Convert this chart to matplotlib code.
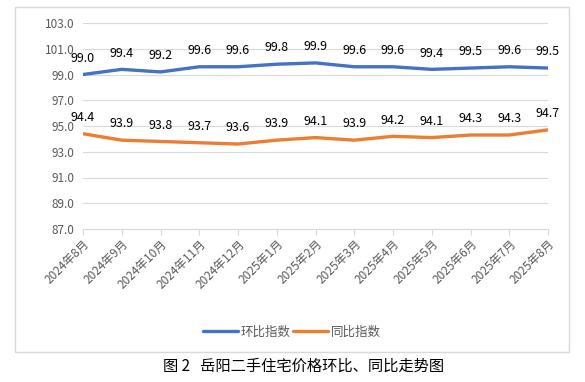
import matplotlib
matplotlib.use("Agg")
import matplotlib.pyplot as plt
from matplotlib.patches import Rectangle

plt.rcParams['font.family'] = ['Noto Sans CJK SC', 'DejaVu Sans']

months = ["2024年8月", "2024年9月", "2024年10月", "2024年11月", "2024年12月",
          "2025年1月", "2025年2月", "2025年3月", "2025年4月", "2025年5月",
          "2025年6月", "2025年7月", "2025年8月"]
mom_index = [99.0, 99.4, 99.2, 99.6, 99.6, 99.8, 99.9, 99.6, 99.6, 99.4, 99.5, 99.6, 99.5]
yoy_index = [94.4, 93.9, 93.8, 93.7, 93.6, 93.9, 94.1, 93.9, 94.2, 94.1, 94.3, 94.3, 94.7]
yticks = [87.0, 89.0, 91.0, 93.0, 95.0, 97.0, 99.0, 101.0, 103.0]

W, H = 585, 382
fig = plt.figure(figsize=(W / 100, H / 100), dpi=100)

# chart border
fig.patches.append(Rectangle((15 / W, 1 - 352 / H), (569 - 15) / W, (352 - 7) / H,
                             transform=fig.transFigure, fill=False,
                             edgecolor="#D9D9D9", linewidth=1))

ax = fig.add_axes([83 / W, 1 - 229 / H, (548 - 83) / W, (229 - 23) / H])
x = range(len(months))
ax.plot(x, mom_index, color="#4472C4", linewidth=2.4, label="环比指数", solid_capstyle="round")
ax.plot(x, yoy_index, color="#ED7D31", linewidth=2.4, label="同比指数", solid_capstyle="round")

for i, v in enumerate(mom_index):
    ax.annotate(f"{v:.1f}", (i, v), xytext=(0, 7), textcoords="offset points",
                ha="center", va="bottom", fontsize=9, color="#000000")
for i, v in enumerate(yoy_index):
    ax.annotate(f"{v:.1f}", (i, v), xytext=(0, 7), textcoords="offset points",
                ha="center", va="bottom", fontsize=9, color="#000000")

ax.set_ylim(87, 103)
ax.set_xlim(0, len(months) - 1)
ax.set_yticks(yticks)
ax.set_yticklabels([f"{t:.1f}" for t in yticks], fontsize=8.5, color="#595959")
ax.set_xticks(list(x))
ax.set_xticklabels(months, rotation=45, ha="right", rotation_mode="anchor",
                   fontsize=8.5, color="#595959")
ax.grid(axis="y", color="#D9D9D9", linewidth=0.8)
ax.set_axisbelow(True)
for s in ["top", "right", "left"]:
    ax.spines[s].set_visible(False)
ax.spines["bottom"].set_color("#D9D9D9")
ax.tick_params(axis="y", length=0, pad=6)
ax.tick_params(axis="x", length=4, color="#D9D9D9", pad=2)

fig.legend(loc="center", bbox_to_anchor=(292 / W, 1 - 332 / H), ncol=2, frameon=False,
           fontsize=9, handlelength=2.8, columnspacing=0.2, handletextpad=0.2,
           labelcolor="#595959")

fig.text(304 / W, 1 - 366 / H, "图 2   岳阳二手住宅价格环比、同比走势图",
         ha="center", va="center", fontsize=11, color="#000000")

fig.savefig("out.png", dpi=100)
